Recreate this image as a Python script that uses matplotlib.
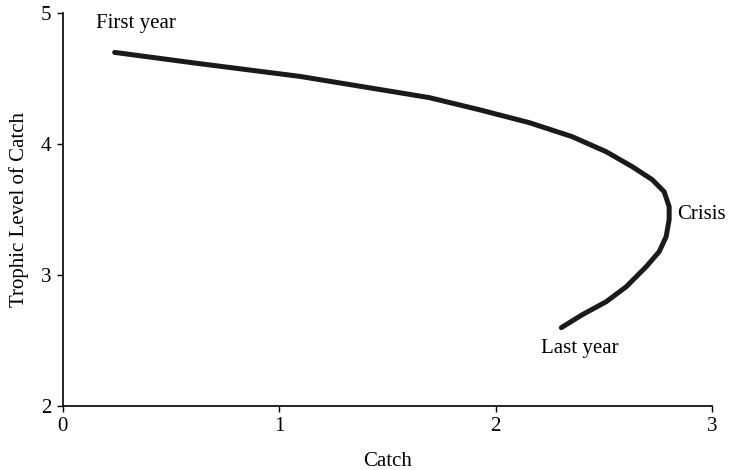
import matplotlib
matplotlib.use("Agg")
import matplotlib.pyplot as plt

# catch vs trophic level trajectory
catch = [0.240, 0.632, 1.094, 1.555, 1.694, 1.924, 2.155, 2.353, 2.510,
         2.630, 2.723, 2.778, 2.801, 2.801, 2.787, 2.755, 2.695, 2.603,
         2.510, 2.400, 2.303]
trophic = [4.700, 4.614, 4.517, 4.392, 4.354, 4.262, 4.163, 4.056, 3.941,
           3.827, 3.727, 3.635, 3.521, 3.421, 3.291, 3.177, 3.062, 2.909,
           2.794, 2.695, 2.596]

x_ticks = [0, 1, 2, 3]
y_ticks = [2, 3, 4, 5]

plt.rcParams['font.family'] = ['Liberation Serif', 'DejaVu Serif']

fig = plt.figure(figsize=(7.29, 4.70), dpi=100)
ax = fig.add_axes([0.086, 0.137, 0.891, 0.835])

ax.plot(catch, trophic, color="#1a1a1a", linewidth=3.6,
        solid_capstyle="round", solid_joinstyle="round")

fs = 15
ax.text(0.34, 4.92, "First year", ha="center", va="center", fontsize=fs)
ax.text(2.84, 3.46, "Crisis", ha="left", va="center", fontsize=fs)
ax.text(2.39, 2.44, "Last year", ha="center", va="center", fontsize=fs)

ax.set_xlim(0, 3)
ax.set_ylim(2, 5)
ax.set_xticks(x_ticks)
ax.set_yticks(y_ticks)
ax.tick_params(labelsize=fs, length=4, width=1, direction="out", pad=4)
for s in ["top", "right"]:
    ax.spines[s].set_visible(False)
for s in ["left", "bottom"]:
    ax.spines[s].set_linewidth(1.2)

ax.set_xlabel("Catch", fontsize=fs, labelpad=12)
ax.set_ylabel("Trophic Level of Catch", fontsize=fs, labelpad=9)

fig.savefig("out.png", dpi=100, facecolor="white")
